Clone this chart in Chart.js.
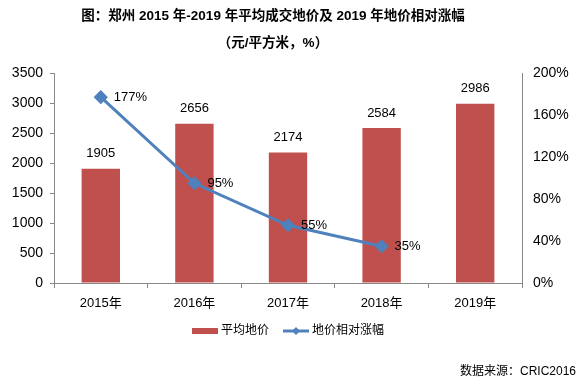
<!DOCTYPE html>
<html>
<head>
<meta charset="utf-8">
<script src="https://cdn.jsdelivr.net/npm/chart.js@4"></script>
<style>
  html, body { margin: 0; padding: 0; background: #fff; }
  #wrap { width: 581px; height: 382px; }
</style>
</head>
<body>
<div id="wrap"><canvas id="myChart" width="581" height="382"></canvas></div>
<script>
// data
const years = ['2015年', '2016年', '2017年', '2018年', '2019年'];
const avgPrice = [1905, 2656, 2174, 2584, 2986];
const riseRate = [177, 95, 55, 35, null];

const titleLines = ['图：郑州 2015 年-2019 年平均成交地价及 2019 年地价相对涨幅', '（元/平方米，%）'];
const legendNames = ['平均地价', '地价相对涨幅'];
const sourceNote = '数据来源：CRIC2016';

const barColor = '#C0504D';
const lineColor = '#4F81BD';
const fontFam = '"Liberation Sans", Arial, "Noto Sans CJK SC", sans-serif';

// draws value labels, title, legend and source note
const extras = {
    id: 'extras',
    afterDatasetsDraw(chart) {
        const ctx = chart.ctx;
        ctx.save();
        ctx.fillStyle = '#000';
        ctx.textBaseline = 'middle';

        // bar values above bars
        ctx.font = '13px ' + fontFam;
        ctx.textAlign = 'center';
        chart.getDatasetMeta(0).data.forEach((el, i) => {
            ctx.fillText(avgPrice[i], el.x, el.y - 15);
        });

        // line values right of points
        ctx.textAlign = 'left';
        chart.getDatasetMeta(1).data.forEach((el, i) => {
            if (riseRate[i] == null) return;
            ctx.fillText(riseRate[i] + '%', el.x + 13, el.y);
        });

        // title
        ctx.font = 'bold 13.5px ' + fontFam;
        ctx.textAlign = 'center';
        ctx.fillText(titleLines[0], 273, 16);
        ctx.fillText(titleLines[1], 273, 43);

        // legend
        ctx.font = '12px ' + fontFam;
        ctx.textAlign = 'left';
        ctx.fillStyle = barColor;
        ctx.fillRect(192, 328, 26, 6);
        ctx.fillStyle = '#000';
        ctx.fillText(legendNames[0], 221, 331);

        ctx.strokeStyle = lineColor;
        ctx.lineWidth = 3;
        ctx.beginPath();
        ctx.moveTo(283, 331);
        ctx.lineTo(309, 331);
        ctx.stroke();
        ctx.fillStyle = lineColor;
        ctx.beginPath();
        ctx.moveTo(296, 327);
        ctx.lineTo(300, 331);
        ctx.lineTo(296, 335);
        ctx.lineTo(292, 331);
        ctx.closePath();
        ctx.fill();
        ctx.fillStyle = '#000';
        ctx.fillText(legendNames[1], 312, 331);

        // source
        ctx.textAlign = 'right';
        ctx.fillText(sourceNote, 576, 372);
        ctx.restore();
    }
};

const ctx = document.getElementById('myChart').getContext('2d');
const myChart = new Chart(ctx, {
    data: {
        labels: years,
        datasets: [{
            type: 'bar',
            label: legendNames[0],
            data: avgPrice,
            backgroundColor: barColor,
            categoryPercentage: 1,
            barPercentage: 0.41,
            yAxisID: 'y',
            order: 2
        }, {
            type: 'line',
            label: legendNames[1],
            data: riseRate,
            borderColor: lineColor,
            backgroundColor: lineColor,
            borderWidth: 3,
            pointStyle: 'rectRot',
            pointRadius: 5,
            pointHoverRadius: 5,
            tension: 0,
            yAxisID: 'y2',
            order: 1
        }]
    },
    options: {
        responsive: false,
        animation: false,
        layout: {
            padding: { top: 73, left: 0, right: 0, bottom: 0 }
        },
        plugins: {
            legend: { display: false },
            title: { display: false },
            tooltip: { enabled: false }
        },
        scales: {
            x: {
                afterFit: s => { s.height = 99; },
                border: { color: '#888' },
                grid: { offset: true, drawOnChartArea: false, tickLength: 5, color: '#888' },
                ticks: { color: '#000', padding: 8, font: { size: 13, family: fontFam } }
            },
            y: {
                position: 'left',
                min: 0,
                max: 3500,
                afterFit: s => { s.width = 54; },
                border: { color: '#888' },
                grid: { drawOnChartArea: false, tickLength: 4, color: '#888' },
                ticks: {
                    stepSize: 500,
                    color: '#000',
                    padding: 7,
                    font: { size: 14, family: fontFam },
                    callback: v => String(v)
                }
            },
            y2: {
                position: 'right',
                min: 0,
                max: 200,
                afterFit: s => { s.width = 59; },
                border: { color: '#888' },
                grid: { drawOnChartArea: false, drawTicks: false },
                ticks: {
                    stepSize: 40,
                    color: '#000',
                    padding: 11,
                    font: { size: 14, family: fontFam },
                    callback: v => v + '%'
                }
            }
        }
    },
    plugins: [extras]
});
</script>
</body>
</html>
